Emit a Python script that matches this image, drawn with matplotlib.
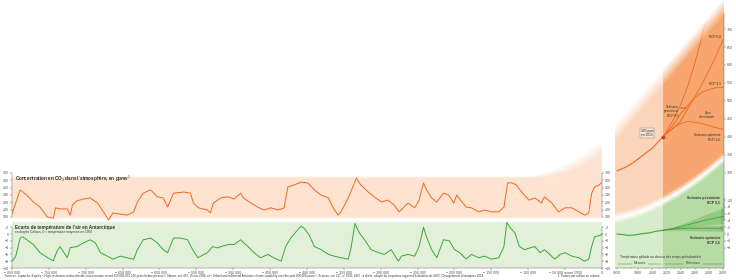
import numpy as np
import matplotlib.pyplot as plt
from matplotlib.colors import to_rgb

# ---- data ----
# Antarctic ice cores: CO2 (ppmv), age in thousand years before 1950
co2_age = np.array([-800, -789, -780, -771, -762, -752, -744, -741, -735, -725, -721, -718, -712,
                    -703, -694, -684, -676, -669, -663, -653, -644, -635, -630, -622, -612, -603,
                    -595, -589, -581, -567, -558, -554, -547, -535, -531, -527, -517, -507, -499,
                    -490, -486, -476, -467, -458, -449, -439, -431, -426, -418, -408, -399, -390,
                    -381, -371, -365, -358, -354, -344, -333, -327, -317, -309, -299, -290, -282,
                    -275, -263, -254, -248, -242, -238, -231, -224, -215, -208, -201, -197, -190,
                    -184, -177, -167, -159, -150, -140, -133, -128, -122, -116, -109, -99, -91,
                    -82, -78, -68, -59, -50, -41, -31, -23, -18, -14, -10, -4, 0])
co2_ppm = np.array([188, 254, 240, 221, 207, 180, 177, 205, 202, 202, 185, 213, 224,
                    229, 232, 218, 194, 172, 191, 188, 185, 194, 221, 245, 254, 235,
                    232, 207, 245, 248, 245, 218, 205, 199, 191, 218, 232, 235, 229,
                    245, 232, 218, 207, 199, 205, 199, 205, 262, 267, 275, 273, 254,
                    240, 232, 207, 185, 194, 232, 286, 267, 248, 235, 221, 226, 213,
                    194, 218, 205, 226, 273, 254, 232, 221, 245, 240, 218, 240, 221,
                    207, 205, 194, 199, 194, 194, 207, 273, 273, 267, 248, 226, 232,
                    218, 235, 218, 194, 205, 205, 194, 185, 191, 245, 262, 267, 275])

# Antarctic air temperature (deg C, 0 = 1950 mean)
temp_age = np.array([-800, -795, -789, -786, -780, -771, -762, -752, -744, -739, -735, -731, -725,
                     -721, -712, -703, -694, -687, -680, -671, -663, -653, -644, -635, -630, -622,
                     -612, -603, -595, -589, -581, -571, -562, -555, -548, -544, -535, -528, -521,
                     -517, -507, -499, -490, -480, -476, -469, -463, -453, -445, -435, -429, -422,
                     -415, -408, -404, -397, -390, -381, -371, -363, -354, -344, -340, -335, -329,
                     -322, -313, -303, -295, -286, -276, -272, -263, -254, -248, -242, -238, -231,
                     -224, -215, -207, -200, -193, -184, -177, -167, -159, -150, -140, -133, -129,
                     -125, -118, -112, -105, -98, -91, -84, -78, -71, -64, -57, -50, -41, -31,
                     -24, -18, -14, -10, -4, 0])
temp_dev = np.array([-8.0, -6.6, -1.2, -0.8, -1.7, -3.1, -5.5, -6.9, -7.9, -5.1, -3.7, -5.0, -7.0,
                     -4.0, -3.7, -2.6, -1.7, -2.6, -5.5, -6.5, -7.4, -6.5, -7.0, -7.4, -4.6, -1.7,
                     -1.2, -2.6, -4.6, -5.5, -1.2, -1.2, -1.7, -4.6, -7.0, -6.5, -5.5, -3.7, -4.1,
                     -3.7, -3.1, -3.1, -1.7, -3.7, -4.6, -6.0, -7.0, -6.0, -7.0, -8.0, -3.7, -1.2,
                     0.6, 2.3, 1.7, -0.3, -3.7, -4.6, -6.0, -6.5, -7.0, -7.4, -3.7, 3.1, 0.3,
                     -1.7, -4.6, -5.5, -6.0, -4.6, -8.0, -6.5, -6.0, -6.5, -3.7, 2.0, -0.8, -4.6,
                     -7.0, -1.7, -2.0, -4.6, -5.5, -7.4, -6.0, -7.0, -6.5, -7.4, -7.0, -3.7, 3.4,
                     2.0, 0.3, -3.7, -4.6, -4.1, -3.7, -5.5, -4.6, -6.0, -7.4, -6.0, -5.5, -6.5, -7.0,
                     -8.0, -7.4, -3.7, -0.8, -0.5, 0.0])

# measured CO2 since 1950 and IPCC scenarios (ppm)
obs_year = [1950, 1960, 1970, 1980, 1990, 2000, 2010, 2015]
obs_co2 = [306, 314, 325, 339, 354, 369, 390, 400]
scen_year = [2015, 2020, 2030, 2040, 2050, 2060, 2070, 2080, 2090, 2100]
rcp26 = [400, 412, 426, 437, 443, 441, 437, 432, 426, 421]
rcp45 = [400, 411, 435, 464, 487, 509, 524, 532, 537, 538]
rcp60 = [400, 409, 425, 444, 478, 511, 546, 584, 624, 670]
rcp85 = [400, 415, 449, 490, 541, 604, 677, 758, 845, 936]

# global temperature (deg C)
tobs_year = [1950, 1960, 1965, 1975, 1985, 1995, 2005, 2015]
tobs = [0.0, -0.2, -0.4, -0.3, 0.1, 0.3, 0.8, 1.1]
tproj_year = [2015, 2030, 2050, 2070, 2100]
t85 = [1.1, 1.7, 2.7, 3.8, 5.2]
t85_lo = [1.1, 1.4, 2.0, 2.5, 3.0]
t85_hi = [1.1, 2.0, 3.6, 5.3, 7.6]
t26 = [1.1, 1.5, 1.7, 1.7, 1.7]
t26_lo = [1.1, 1.1, 1.0, 0.9, 0.8]
t26_hi = [1.1, 1.9, 2.3, 2.4, 2.5]

ORANGE = '#ee6a1f'
GREEN = '#3aa83a'
GREY = '#555555'
plt.rcParams['font.family'] = ['Liberation Sans', 'DejaVu Sans']

W, H = 736, 280
fig = plt.figure(figsize=(W / 100, H / 100), dpi=100)


def box(x0, y0, x1, y1):
    return [x0 / W, 1 - y1 / H, (x1 - x0) / W, (y1 - y0) / H]


# ---- soft coloured backgrounds (pixel space) ----
yy, xx = np.mgrid[0:H, 0:W] + 0.5


def ramp(d, w):
    return np.clip(0.5 + d / w, 0.0, 1.0)


img = np.ones((H, W, 3))


def paint(alpha, color):
    c = np.array(to_rgb(color))
    a = alpha[..., None]
    img[:] = img * (1 - a) + c * a


rise = np.clip((xx - 525) / 80, 0, 1)
top_l = 177 - 32 * rise ** 2
lx = ramp(xx - 12, 1) * ramp(602 - xx, 1)
paint(lx * ramp(yy - top_l, 2 + 14 * rise) * ramp(218 - yy, 2), '#fde3d0')
paint(lx * ramp(yy - 222, 2) * ramp(268 - yy, 1), '#e2f0da')

gap = 219 - 62 * np.clip((xx - 605) / 120, 0, 1) ** 1.7
rx = ramp(xx - 615, 1) * ramp(724 - xx, 1)
meas = (xx < 663).astype(float)
paint(rx * ramp(gap - 3 - yy, 6) * meas, '#fbd5b9')
paint(rx * ramp(gap - 3 - yy, 6) * (1 - meas), '#f6a66e')
paint(rx * ramp(yy - gap - 3, 6) * ramp(268 - yy, 1) * meas, '#d6ecca')
paint(rx * ramp(yy - gap - 3, 6) * ramp(268 - yy, 1) * (1 - meas), '#b6dba4')

bg = fig.add_axes([0, 0, 1, 1])
bg.imshow(img, extent=(0, W, H, 0), aspect='auto', interpolation='bilinear')
bg.set_xlim(0, W)
bg.set_ylim(H, 0)
bg.axis('off')


def style(ax):
    ax.patch.set_alpha(0)
    for s in ax.spines.values():
        s.set_visible(False)
    ax.tick_params(labelsize=2.6, colors=GREY, length=1.2, width=0.3, pad=0.8)


def show_spine(ax, side, lo, hi):
    sp = ax.spines[side]
    sp.set_visible(True)
    sp.set_bounds(lo, hi)
    sp.set_linewidth(0.3)
    sp.set_color(GREY)


def signed(vals):
    return [f'{v:+d}'.replace('-', '\u2212').replace('+0', '0') for v in vals]


# ---- left panel: CO2 ----
ax1 = fig.add_axes(box(12, 120, 602, 221))
style(ax1)
ax1.plot(co2_age * 1000, co2_ppm, color=ORANGE, lw=0.7)
ax1.set_xlim(-800000, 0)
ax1.set_ylim(300 - (221 - 173) * 120 / 44, 300 + (173 - 120) * 120 / 44)
ax1.set_yticks(range(180, 301, 20))
ax1.tick_params(axis='y', left=True, right=True, labelleft=True, labelright=True)
ax1.set_xticks([])
show_spine(ax1, 'left', 180, 300)
show_spine(ax1, 'right', 180, 300)

# ---- left panel: temperature ----
ax2 = fig.add_axes(box(12, 221, 602, 268))
style(ax2)
ax2.plot(temp_age * 1000, temp_dev, color=GREEN, lw=0.7)
ax2.set_xlim(-800000, 0)
ax2.set_ylim(-10, (234 - 221) / 3.4)
ax2.set_yticks(range(-10, 3, 2))
ax2.set_yticklabels(signed(range(-10, 3, 2)))
ax2.tick_params(axis='y', left=True, right=True, labelleft=True, labelright=True)
xt = list(range(-800000, 1, 50000))
xl = []
for v in xt:
    if v == 0:
        xl.append('0')
    elif v == -50000:
        xl.append('\u2212 50 000 avant 1950')
    else:
        xl.append('\u2212 ' + f'{-v:,}'.replace(',', ' '))
ax2.set_xticks(xt)
ax2.set_xticklabels(xl)
show_spine(ax2, 'left', -10, 2)
show_spine(ax2, 'right', -10, 2)
show_spine(ax2, 'bottom', -800000, 0)

# ---- right panel: CO2 since 1950 and scenarios ----
x0r = 1950 - 2 / 0.707
x1r = 2100 + 1 / 0.707
ax3 = fig.add_axes(box(615, 0, 724, 221))
style(ax3)
ax3.set_xlim(x0r, x1r)
ax3.set_ylim(300 - 48 / 0.36, 300 + 173 / 0.36)
ax3.plot(obs_year, obs_co2, color=ORANGE, lw=0.8)
for s in (rcp26, rcp45, rcp60, rcp85):
    ax3.plot(scen_year, s, color=ORANGE, lw=0.6)
ax3.plot([2015], [400], 'o', color='#c0392b', ms=1.6)
ax3.set_xticks([])
ax3.yaxis.tick_right()
ax3.set_yticks(range(300, 701, 50))
show_spine(ax3, 'right', 170, 745)

# ---- right panel: global temperature ----
ax4 = fig.add_axes(box(615, 150, 724, 268))
style(ax4)
ax4.set_xlim(x0r, x1r)
ax4.set_ylim(-10, (234 - 150) / 3.4)
ax4.fill_between(tproj_year, t85_lo, t85_hi, color='#6fb45c', alpha=0.45, lw=0)
ax4.fill_between(tproj_year, t26_lo, t26_hi, color='#6fb45c', alpha=0.45, lw=0)
ax4.plot(tobs_year, tobs, color=GREEN, lw=0.8)
ax4.plot(tproj_year, t85, color=GREEN, lw=0.6)
ax4.plot(tproj_year, t26, color='#2e7d2e', lw=0.6, ls=(0, (1, 0.6)))
for lo, hi in ((t85_lo[-1], t85_hi[-1]), (t26_lo[-1], t26_hi[-1])):
    ax4.plot([2098, 2098], [lo, hi], color='#2e7d2e', lw=0.3)
ax4.yaxis.tick_right()
ax4.set_yticks(range(-4, 11, 2))
ax4.set_yticklabels(signed(range(-4, 11, 2)))
ax4.set_xticks([1950, 1980, 2000, 2020, 2040, 2060, 2080, 2100])
ax4.set_xticks(range(1950, 2101, 10), minor=True)
ax4.tick_params(axis='x', which='minor', length=0.8, width=0.3, colors=GREY)
show_spine(ax4, 'right', -10, 10.5)
show_spine(ax4, 'bottom', x0r, x1r)

# ---- white glow above the scenario fan ----
edge = 145 - 1.16 * (xx - 605)
over = np.ones((H, W, 4))
over[..., 3] = ramp(edge - yy, 18) * (xx > 602) * (xx < 724)
ov = fig.add_axes([0, 0, 1, 1])
ov.imshow(over, extent=(0, W, H, 0), aspect='auto', interpolation='bilinear')
ov.set_xlim(0, W)
ov.set_ylim(H, 0)
ov.axis('off')


# ---- texts ----
def t(x, y, s, size=2.8, **kw):
    kw.setdefault('color', '#333333')
    fig.text(x / W, 1 - y / H, s, fontsize=size, va='center', **kw)


t(15, 179, "Concentration en CO$_2$ dans l\u2019atmosph\u00e8re, en ppmv$^1$", 3.3, weight='bold')
t(15, 227, "Ecarts de temp\u00e9rature de l\u2019air en Antarctique", 3.3, weight='bold')
t(15, 232.5, "en degr\u00e9s Celsius, 0 = temp\u00e9rature moyenne en 1950", 2.3)

t(647, 133, "400 ppm\nen 2015", 2.3, ha='center', linespacing=1.1,
  bbox=dict(boxstyle='square,pad=0.3', fc='#fbe3d2', ec='#888888', lw=0.3))
t(679, 111, "Sc\u00e9nario\npessimiste\nRCP 8,5", 2.3, ha='right', linespacing=1.1)
t(707, 115, "Zone\nd\u2019incertitude", 2.2, ha='center', style='italic', linespacing=1.1)
t(720, 137, "Sc\u00e9nario optimiste\nRCP 2,6", 2.3, ha='right', linespacing=1.1)
t(721, 37, "RCP 6,0", 2.3, ha='right')
t(721, 84, "RCP 4,5", 2.3, ha='right')
fig.add_artist(plt.Line2D([680 / W, 686 / W], [1 - 108 / H, 1 - 108 / H], lw=0.3, color='#333333'))

t(720, 200, "Sc\u00e9nario pessimiste\nRCP 8,5", 2.4, ha='right', weight='bold', linespacing=1.1)
t(720, 240, "Sc\u00e9nario optimiste\nRCP 2,6", 2.4, ha='right', weight='bold', linespacing=1.1)
t(620, 257, "Temp\u00e9rature globale au-dessus des temps pr\u00e9industriels", 2.3)
t(640, 263.5, "Mesures", 2.3, ha='center', style='italic')
t(693, 263.5, "Pr\u00e9visions", 2.3, ha='center', style='italic')
for a, b in ((618, 632), (648, 661), (665, 683), (703, 722)):
    fig.add_artist(plt.Line2D([a / W, b / W], [1 - 263.5 / H] * 2, lw=0.3, color='#555555'))

t(5, 276.5, "Sources : \u00e0 gauche, d\u2019apr\u00e8s \u00ab High-resolution carbon dioxide concentration record "
  "650,000-800,000 years before present \u00bb, Nature, vol. 453, 15 mai 2008, et \u00ab Orbital and "
  "millennial Antarctic climate variability over the past 800,000 years \u00bb, Science, vol. 317, "
  "n\u00b0 5839, 2007 ; \u00e0 droite, adapt\u00e9 du cinqui\u00e8me rapport d\u2019\u00e9valuation du GIEC, "
  "Changements climatiques 2013.", 2.1)
t(558, 276.5, "1. Parties par million en volume", 2.1)

fig.savefig('out.png', dpi=100)
